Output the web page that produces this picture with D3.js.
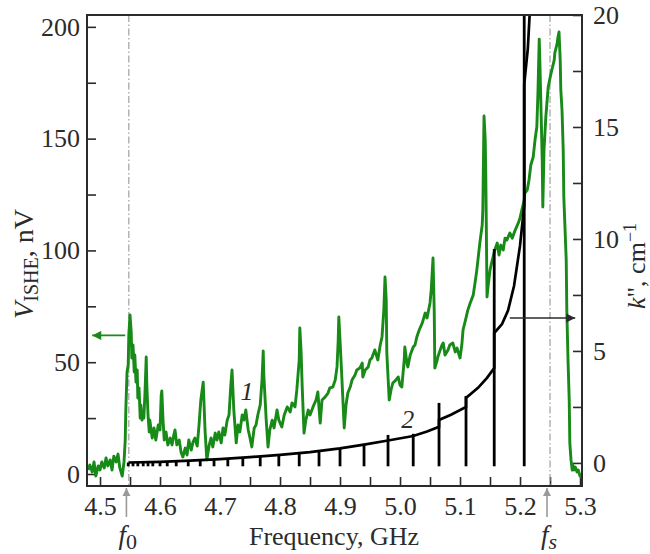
<!DOCTYPE html>
<html>
<head>
<meta charset="utf-8">
<script src="https://cdn.jsdelivr.net/npm/d3@7"></script>
<style>
  body { margin: 0; background: #fff; }
  svg { display: block; }
  .tick text { font-family: "Liberation Serif", "Times New Roman", serif; font-size: 26px; fill: #2b2b2b; }
  .tick line { stroke: #2b2b2b; stroke-width: 1.6; }
  .lbl { font-family: "Liberation Serif", "Times New Roman", serif; fill: #2b2b2b; }
</style>
</head>
<body>
<div class="figure"></div>
<script>
// tick values
const freqMajor = [4.5, 4.6, 4.7, 4.8, 4.9, 5.0, 5.1, 5.2, 5.3];
const freqMinor = [4.55, 4.65, 4.75, 4.85, 4.95, 5.05, 5.15, 5.25];
const vMajor = [0, 50, 100, 150, 200];
const vMinor = [25, 75, 125, 175];
const kMajor = [0, 5, 10, 15, 20];
const kMinor = [2.5, 7.5, 12.5, 17.5];

// marked frequencies, GHz
const f0 = 4.548;
const fs = 5.25;

// curve 1: V_ISHE (nV) vs frequency (GHz)
const ishe = [
  [4.480,1.8],[4.483,4.0],[4.487,0.9],[4.490,5.4],[4.493,-0.9],[4.497,3.6],[4.500,1.8],[4.503,5.4],
  [4.507,2.7],[4.510,7.2],[4.513,3.6],[4.517,6.3],[4.520,1.8],[4.523,8.0],[4.527,5.4],[4.530,8.9],
  [4.533,2.7],[4.537,-0.9],[4.540,5.4],[4.542,15.2],[4.543,28.6],[4.545,45.6],[4.547,48.7],[4.548,62.2],
  [4.550,71.1],[4.552,63.5],[4.553,51.9],[4.555,57.7],[4.557,45.6],[4.558,53.2],[4.560,41.1],[4.562,46.5],
  [4.563,34.0],[4.565,38.5],[4.567,25.0],[4.568,30.9],[4.570,24.1],[4.572,27.7],[4.573,25.0],[4.575,36.7],
  [4.577,52.3],[4.578,39.8],[4.580,26.4],[4.582,18.8],[4.583,24.1],[4.587,16.1],[4.590,20.6],[4.593,15.2],
  [4.597,21.9],[4.600,19.7],[4.602,35.3],[4.603,37.1],[4.605,24.1],[4.607,15.2],[4.610,18.8],[4.613,13.0],
  [4.617,16.1],[4.620,13.0],[4.623,17.4],[4.625,19.7],[4.628,13.0],[4.632,15.2],[4.635,9.8],[4.638,7.6],
  [4.642,11.6],[4.645,8.5],[4.648,15.2],[4.652,10.7],[4.655,14.3],[4.658,16.1],[4.662,12.5],[4.665,21.9],
  [4.668,33.1],[4.672,41.1],[4.675,19.7],[4.678,6.3],[4.682,13.0],[4.685,16.1],[4.688,12.1],[4.692,18.3],
  [4.695,15.2],[4.698,18.8],[4.702,13.9],[4.705,20.6],[4.708,17.4],[4.712,24.1],[4.715,26.4],[4.718,39.8],
  [4.720,46.5],[4.723,28.6],[4.727,13.9],[4.730,21.9],[4.733,18.8],[4.737,26.4],[4.740,24.1],[4.743,28.6],
  [4.747,19.7],[4.750,16.1],[4.753,12.1],[4.757,20.6],[4.760,21.9],[4.763,26.4],[4.767,30.9],[4.770,42.0],
  [4.772,55.0],[4.773,44.3],[4.777,24.1],[4.780,12.1],[4.783,19.7],[4.787,24.1],[4.790,20.6],[4.795,28.6],
  [4.798,24.1],[4.803,21.0],[4.807,26.4],[4.812,30.0],[4.817,27.7],[4.820,31.8],[4.825,30.0],[4.828,37.6],
  [4.832,51.0],[4.833,65.3],[4.835,55.5],[4.837,38.9],[4.840,18.3],[4.843,24.1],[4.847,28.6],[4.850,26.4],
  [4.855,30.0],[4.860,33.1],[4.863,36.7],[4.867,22.8],[4.870,33.1],[4.875,34.4],[4.880,36.2],[4.883,38.5],
  [4.888,38.9],[4.892,42.0],[4.895,47.9],[4.897,59.9],[4.898,70.2],[4.900,59.9],[4.903,43.4],[4.907,20.6],
  [4.910,30.9],[4.913,36.2],[4.917,38.9],[4.920,42.0],[4.925,44.3],[4.928,46.5],[4.933,47.4],[4.937,49.6],
  [4.938,43.4],[4.942,46.5],[4.947,47.9],[4.950,51.0],[4.953,51.9],[4.958,55.5],[4.963,51.0],[4.967,57.7],
  [4.970,61.3],[4.973,73.3],[4.975,88.1],[4.977,77.8],[4.978,54.1],[4.982,33.1],[4.985,37.6],[4.988,40.7],
  [4.993,42.0],[4.997,43.4],[5.000,39.8],[5.003,38.9],[5.007,51.0],[5.008,56.8],[5.012,48.7],[5.013,47.9],
  [5.017,53.2],[5.022,56.8],[5.025,57.7],[5.028,61.3],[5.032,64.4],[5.037,67.5],[5.042,72.0],[5.045,69.8],
  [5.050,76.5],[5.052,82.3],[5.055,96.6],[5.057,73.3],[5.058,47.4],[5.062,51.0],[5.063,52.3],[5.067,55.5],
  [5.070,57.7],[5.072,58.6],[5.075,53.2],[5.080,55.5],[5.083,57.7],[5.088,58.6],[5.092,54.6],[5.095,56.3],
  [5.100,51.9],[5.103,57.7],[5.105,64.4],[5.110,69.8],[5.113,73.3],[5.117,76.5],[5.122,80.0],[5.125,85.4],
  [5.128,91.2],[5.133,103.3],[5.137,111.4],[5.138,118.1],[5.140,160.1],[5.142,149.4],[5.143,132.8],[5.145,79.2],
  [5.147,84.5],[5.150,91.2],[5.153,94.8],[5.158,100.2],[5.162,103.3],[5.165,97.9],[5.168,102.4],[5.172,100.2],
  [5.175,105.5],[5.178,104.6],[5.183,107.8],[5.187,105.5],[5.192,109.1],[5.197,112.2],[5.200,114.5],[5.203,118.1],
  [5.207,122.5],[5.208,125.7],[5.212,127.0],[5.215,131.5],[5.218,138.2],[5.222,141.8],[5.225,149.4],[5.228,155.2],
  [5.230,171.7],[5.232,194.5],[5.233,185.1],[5.235,162.8],[5.237,140.4],[5.238,119.4],[5.240,144.9],[5.243,159.7],
  [5.247,173.1],[5.250,177.1],[5.253,180.7],[5.257,185.1],[5.258,188.3],[5.262,192.7],[5.263,195.0],[5.265,197.7],
  [5.267,185.1],[5.268,171.7],[5.270,162.8],[5.272,144.9],[5.273,123.9],[5.277,95.7],[5.278,73.3],[5.280,51.0],
  [5.282,33.1],[5.283,13.9],[5.285,6.3],[5.287,1.8],[5.288,4.0],[5.290,1.8],[5.292,3.1],[5.295,0.9],
  [5.297,1.8],[5.300,-0.9],[5.303,-1.3]
];

// curve 2: k'' (1/cm) vs frequency, smooth part (repeated f = jump at a resonance)
const kCurve = [
  [4.548,0.02],[4.60,0.05],[4.65,0.1],[4.70,0.17],[4.75,0.26],[4.80,0.36],[4.85,0.48],[4.90,0.65],
  [4.94,0.82],[4.98,1.0],[5.022,1.2],[5.045,1.4],[5.065,1.61],[5.065,1.92],[5.085,2.15],[5.11,2.5],
  [5.11,2.9],[5.13,3.35],[5.145,3.8],[5.157,4.24],[5.157,5.8],[5.17,6.2],[5.18,6.8],[5.19,7.9],
  [5.20,9.7],[5.207,11.5],[5.207,16.9],[5.213,18.5],[5.218,21]
];
// resonance spikes: frequency, top value (they all go down to kSpikeBase)
const kSpikes = [
  [4.547,0.02],[4.555,0.02],[4.563,0.03],[4.572,0.03],[4.580,0.04],[4.588,0.04],[4.600,0.05],[4.612,0.06],
  [4.627,0.08],[4.647,0.1],[4.667,0.13],[4.690,0.15],[4.713,0.19],[4.738,0.24],[4.767,0.3],[4.798,0.36],
  [4.832,0.45],[4.865,0.55],[4.900,0.65],[4.940,0.85],[4.980,1.25],[5.022,1.3],[5.065,2.68],[5.110,2.99],
  [5.157,9.55],[5.207,21]
];
const kSpikeBase = -0.15;

// annotation arrows: [f start, f end, value]
const arrowV = [4.542, 4.487, 62];
const arrowK = [5.183, 5.292, 6.47];

const width = 650, height = 554;
const margin = {top: 15, right: 68, bottom: 68, left: 87};
const graphWidth = width - margin.left - margin.right;
const graphHeight = height - margin.top - margin.bottom;

const green = '#178a17';
const ink = '#2b2b2b';

const svg = d3.select('.figure').append('svg')
  .attr('width', width)
  .attr('height', height);

const graph = svg.append('g')
  .attr('transform', `translate(${margin.left}, ${margin.top})`);

const x = d3.scaleLinear().domain([4.4783, 5.3033]).range([0, graphWidth]);
const yV = d3.scaleLinear().domain([-5.37, 205.3]).range([graphHeight, 0]);
const yK = d3.scaleLinear().domain([-1.03, 20.0]).range([graphHeight, 0]);

svg.append('defs').append('clipPath').attr('id', 'plotClip')
  .append('rect').attr('width', graphWidth).attr('height', graphHeight);

const defs = svg.select('defs');
const marker = (id, colour, w, h) => {
  defs.append('marker')
    .attr('id', id)
    .attr('viewBox', '0 0 10 10')
    .attr('refX', 10).attr('refY', 5)
    .attr('markerWidth', w).attr('markerHeight', h)
    .attr('markerUnits', 'userSpaceOnUse')
    .attr('orient', 'auto')
    .append('path').attr('d', 'M0,0 L10,5 L0,10 Z').attr('fill', colour);
};
marker('arrGreen', green, 12, 9);
marker('arrBlack', ink, 12, 9);
marker('arrGrey', '#9a9a9a', 8, 10);

// axes (ticks point inward)
const xAxisG = graph.append('g').attr('transform', `translate(0, ${graphHeight})`);
xAxisG.call(d3.axisBottom(x).tickValues(freqMajor).tickSize(-9).tickPadding(11).tickFormat(d3.format('.1f')));
xAxisG.call(g => g.select('.domain').remove());
graph.append('g').attr('transform', `translate(0, ${graphHeight})`)
  .call(d3.axisBottom(x).tickValues(freqMinor).tickSize(-9).tickFormat(''))
  .call(g => g.select('.domain').remove());

graph.append('g')
  .call(d3.axisLeft(yV).tickValues(vMajor).tickSize(-9).tickPadding(7))
  .call(g => g.select('.domain').remove());
graph.append('g')
  .call(d3.axisLeft(yV).tickValues(vMinor).tickSize(-9).tickFormat(''))
  .call(g => g.select('.domain').remove());

graph.append('g').attr('transform', `translate(${graphWidth}, 0)`)
  .call(d3.axisRight(yK).tickValues(kMajor).tickSize(-9).tickPadding(11))
  .call(g => g.select('.domain').remove());
graph.append('g').attr('transform', `translate(${graphWidth}, 0)`)
  .call(d3.axisRight(yK).tickValues(kMinor).tickSize(-9).tickFormat(''))
  .call(g => g.select('.domain').remove());

// dash-dot markers at f0 and fs
graph.selectAll('line.mark')
  .data([f0, fs])
  .enter().append('line')
    .attr('class', 'mark')
    .attr('x1', d => x(d)).attr('x2', d => x(d))
    .attr('y1', 0).attr('y2', graphHeight)
    .attr('stroke', '#a0a0a0')
    .attr('stroke-width', 1.2)
    .attr('stroke-dasharray', '7,2.5,1.5,2.5');

const plot = graph.append('g').attr('clip-path', 'url(#plotClip)');

// curve 1
plot.append('path')
  .datum(ishe)
  .attr('fill', 'none')
  .attr('stroke', green)
  .attr('stroke-width', 2.9)
  .attr('stroke-linejoin', 'round')
  .attr('d', d3.line().x(d => x(d[0])).y(d => yV(d[1])));

// curve 2 + resonance spikes
plot.append('path')
  .datum(kCurve)
  .attr('fill', 'none')
  .attr('stroke', '#000')
  .attr('stroke-width', 2.7)
  .attr('d', d3.line().x(d => x(d[0])).y(d => yK(d[1])));

plot.selectAll('line.spike')
  .data(kSpikes)
  .enter().append('line')
    .attr('class', 'spike')
    .attr('x1', d => x(d[0])).attr('x2', d => x(d[0]))
    .attr('y1', d => yK(d[1])).attr('y2', yK(kSpikeBase))
    .attr('stroke', '#000')
    .attr('stroke-width', 2.8);

// frame
graph.append('rect')
  .attr('width', graphWidth).attr('height', graphHeight)
  .attr('fill', 'none')
  .attr('stroke', ink)
  .attr('stroke-width', 2);

// arrows pointing to each axis
graph.append('line')
  .attr('x1', x(arrowV[0])).attr('x2', x(arrowV[1]))
  .attr('y1', yV(arrowV[2])).attr('y2', yV(arrowV[2]))
  .attr('stroke', green).attr('stroke-width', 1.8)
  .attr('marker-end', 'url(#arrGreen)');
graph.append('line')
  .attr('x1', x(arrowK[0])).attr('x2', x(arrowK[1]))
  .attr('y1', yK(arrowK[2])).attr('y2', yK(arrowK[2]))
  .attr('stroke', ink).attr('stroke-width', 1.6)
  .attr('marker-end', 'url(#arrBlack)');

// grey arrows under the axis at f0, fs
graph.selectAll('line.up')
  .data([f0 - 0.004, fs - 0.005])
  .enter().append('line')
    .attr('class', 'up')
    .attr('x1', d => x(d)).attr('x2', d => x(d))
    .attr('y1', graphHeight + 31).attr('y2', graphHeight + 2)
    .attr('stroke', '#9a9a9a').attr('stroke-width', 1.6)
    .attr('marker-end', 'url(#arrGrey)');

// curve numbers
graph.append('text').attr('class', 'lbl')
  .attr('x', x(4.745)).attr('y', yV(33)).attr('text-anchor', 'middle')
  .style('font-size', '26px').style('font-style', 'italic').text('1');
graph.append('text').attr('class', 'lbl')
  .attr('x', x(5.013)).attr('y', yK(1.55)).attr('text-anchor', 'middle')
  .style('font-size', '26px').style('font-style', 'italic').text('2');

// f0 and fs labels
const fLabel = (f, sub, subItalic) => {
  const t = graph.append('text').attr('class', 'lbl')
    .attr('x', x(f) - 1).attr('y', graphHeight + 58)
    .attr('text-anchor', 'middle')
    .style('font-size', '27px');
  t.append('tspan').style('font-style', 'italic').text('f');
  t.append('tspan').attr('dy', 5).style('font-size', '22px')
    .style('font-style', subItalic ? 'italic' : 'normal').text(sub);
};
fLabel(f0, '0', false);
fLabel(fs, 's', true);

// x title
svg.append('text').attr('class', 'lbl')
  .attr('x', 334).attr('y', 545)
  .attr('text-anchor', 'middle')
  .style('font-size', '26px')
  .text('Frequency, GHz');

// left title
const yTitle = svg.append('text').attr('class', 'lbl')
  .attr('transform', 'translate(33, 264) rotate(-90)')
  .attr('text-anchor', 'middle')
  .style('font-size', '28px');
yTitle.append('tspan').style('font-style', 'italic').text('V');
yTitle.append('tspan').attr('dy', 5).style('font-size', '20px').text('ISHE');
yTitle.append('tspan').attr('dy', -5).text(', nV');

// right title
const kTitle = svg.append('text').attr('class', 'lbl')
  .attr('transform', 'translate(645, 266) rotate(-90)')
  .attr('text-anchor', 'middle')
  .style('font-size', '26px');
kTitle.append('tspan').style('font-style', 'italic').text('k');
kTitle.append('tspan').text('", cm');
kTitle.append('tspan').attr('dy', -9).style('font-size', '18px').text('\u22121');
</script>
</body>
</html>
